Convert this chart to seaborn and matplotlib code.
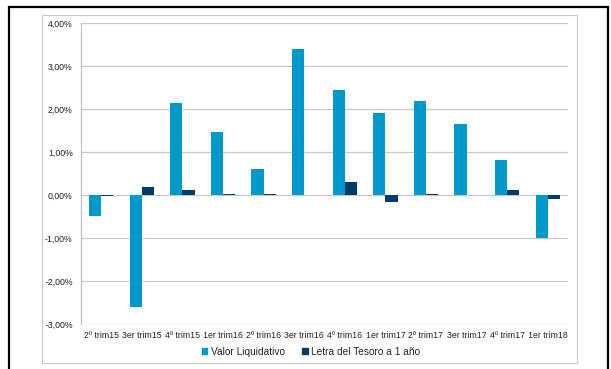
import pandas as pd
import numpy as np
import matplotlib.pyplot as plt
import seaborn as sns
from matplotlib.patches import Rectangle
from matplotlib.ticker import FuncFormatter

# datos (rentabilidad trimestral, %)
trimestres = ["2º trim15", "3er trim15", "4º trim15", "1er trim16", "2º trim16", "3er trim16",
              "4º trim16", "1er trim17", "2º trim17", "3er trim17", "4º trim17", "1er trim18"]
valor_liquidativo = [-0.47, -2.60, 2.15, 1.48, 0.61, 3.41, 2.45, 1.92, 2.19, 1.65, 0.81, -1.00]
letra_tesoro = [-0.02, 0.19, 0.12, 0.03, 0.03, 0.01, 0.30, -0.15, 0.04, 0.0, 0.13, -0.09]
series = ["Valor Liquidativo", "Letra del Tesoro a 1 año"]
colores = ["#0099CC", "#003A66"]

df = pd.DataFrame({
    "trimestre": trimestres * 2,
    "serie": [series[0]] * len(trimestres) + [series[1]] * len(trimestres),
    "valor": valor_liquidativo + letra_tesoro,
})

sns.set_style("white")
plt.rcParams["font.family"] = ["Liberation Sans", "DejaVu Sans"]

fig = plt.figure(figsize=(6.11, 3.69), dpi=100)
W, H = 611, 369

# marco negro exterior y marco gris interior
fig.add_artist(Rectangle((9 / W, -0.05), 599 / W, 1 - 7 / H + 0.05, transform=fig.transFigure,
                         fill=False, edgecolor="black", linewidth=1.6))
fig.add_artist(Rectangle((42 / W, 1 - 363 / H), 535 / W, 348 / H, transform=fig.transFigure,
                         fill=False, edgecolor="#c8c8c8", linewidth=0.8))

ax = fig.add_axes([81 / W, 1 - 324.3 / H, 487 / W, 301 / H])
sns.barplot(data=df, x="trimestre", y="valor", hue="serie", palette=colores,
            width=0.6, gap=0, edgecolor="none", saturation=1, legend=False, ax=ax)

ax.set_ylim(-3, 4)
ax.set_yticks(np.arange(-3, 5, 1))
ax.yaxis.set_major_formatter(FuncFormatter(lambda v, p: f"{v:.2f}%".replace(".", ",")))
ax.set_xlim(-0.5, len(trimestres) - 0.5)
ax.grid(axis="y", color="#c8c8c8", linewidth=0.9)
ax.set_axisbelow(True)
for s in ["top", "right", "bottom"]:
    ax.spines[s].set_visible(False)
ax.spines["left"].set_color("#c0c0c0")
ax.spines["left"].set_linewidth(0.9)
ax.tick_params(axis="y", length=3, width=0.9, color="#c0c0c0", pad=3, labelsize=6.3, labelcolor="#222222")
ax.tick_params(axis="x", length=0, pad=5, labelsize=6.3, labelcolor="#222222")
ax.set_xlabel("")
ax.set_ylabel("")

handles = [Rectangle((0, 0), 1, 1, color=c) for c in colores]
fig.legend(handles, series, loc="center", bbox_to_anchor=(311 / W, 1 - 352 / H), ncol=2,
           frameon=False, fontsize=7.3, handlelength=0.55, handleheight=0.55,
           handletextpad=0.35, columnspacing=1.7)

fig.savefig("out.png", dpi=100)
